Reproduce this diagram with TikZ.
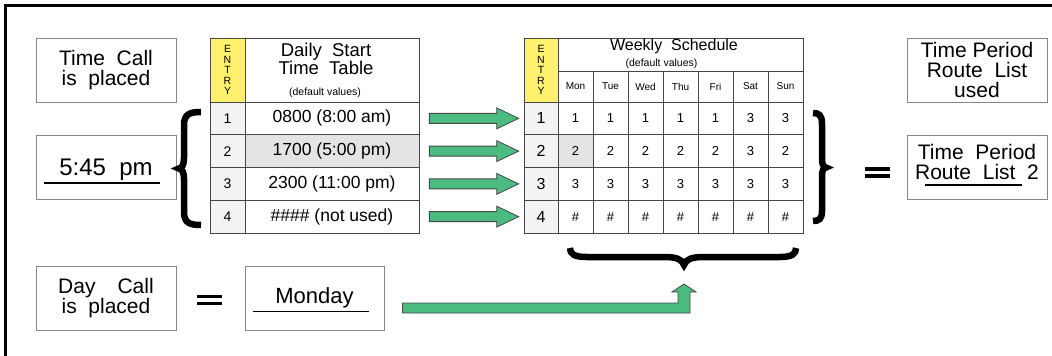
\documentclass[tikz,border=0pt]{standalone}
\usepackage{fontspec}
\setmainfont{Liberation Sans}
\usetikzlibrary{calc}

\definecolor{boxgray}{RGB}{135,135,135}
\definecolor{linegray}{RGB}{70,70,70}
\definecolor{entryyellow}{RGB}{255,240,110}
\definecolor{entrygray}{RGB}{243,243,243}
\definecolor{pickgray}{RGB}{228,228,230}
\definecolor{arrowgreen}{RGB}{76,187,127}

\tikzset{
  box/.style={draw=boxgray, line width=0.9pt, minimum width=140pt, minimum height=64pt,
    inner sep=0pt, align=center, font=\fontsize{21}{20}\selectfont},
  cell/.style={draw=linegray, line width=0.7pt, inner sep=0pt, minimum width=35pt,
    minimum height=32.75pt},
  entry/.style={cell, fill=entrygray},
  entryhead/.style={cell, fill=entryyellow, minimum height=64pt, align=center,
    font=\fontsize{10.5}{10.6}\selectfont},
  fatarrow/.style={draw=linegray, fill=arrowgreen, line width=0.8pt},
  bigbrace/.style={line width=6.5pt},
  eqbar/.style={line width=3.4pt},
  uline/.style={line width=1.2pt},
}

\begin{document}
\begin{tikzpicture}[x=1pt,y=-1pt]
  \useasboundingbox (0,0) rectangle (1052,356);
  \draw[line width=2.6pt] (5.5,356) -- (5.5,5.5) -- (1052,5.5);

  % call side
  \node[box] (tcall) at (106,70) {Time~~Call\\is~~placed};
  \node[box, text depth=0pt, font=\fontsize{24}{24}\selectfont] (tnow) at (106,167.5) {5:45~~pm};
  \draw[uline] (44,183) -- (160,183);
  \node[box] (dcall) at (106,298) {Day\hspace{22pt}Call\\is~~placed};
  \draw[eqbar] (197,296.5) -- (222,296.5) (197,303.5) -- (222,303.5);
  \node[box, minimum width=139pt, font=\fontsize{22}{22}\selectfont] (mon) at (314.5,298) {Monday};
  \draw[uline] (253,311.5) -- (369,311.5);

  % daily start time table
  \fill[pickgray] (245,134.75) rectangle (419,167.5);
  \node[entryhead] (de) at (227.5,70) {E\\N\\T\\R\\Y};
  \node[cell, minimum width=174pt, minimum height=64pt] (dh) at (332,70) {};
  \node[align=center, inner sep=0pt, font=\fontsize{18.5}{17}\selectfont] (dtitle) at (326,58.8) {Daily~~Start\\Time~~Table};
  \node[inner sep=0pt, font=\fontsize{10.5}{10.5}\selectfont] (dnote) at (325,93) {(default values)};
  \foreach \t [count=\i, evaluate=\i as \ry using 85.625+32.75*\i] in
      {0800 (8:00 am), 1700 (5:00 pm), 2300 (11:00 pm), \#\#\#\# (not used)} {
    \node[entry, font=\fontsize{14}{14}\selectfont] (dn\i) at (227.5,\ry) {\i};
    \node[cell, minimum width=174pt, font=\fontsize{17.5}{17.5}\selectfont] (d\i) at (332,\ry) {\t};
  }

  % weekly schedule
  \fill[pickgray] (558,134.75) rectangle (593,167.5);
  \node[entryhead, minimum width=34pt] (we) at (541,70) {E\\N\\T\\R\\Y};
  \node[cell, minimum width=245pt, minimum height=33pt] (wh) at (680.5,54.5) {};
  \node[inner sep=0pt, font=\fontsize{16}{16}\selectfont] (wtitle) at (674,46.8) {Weekly~~Schedule};
  \node[inner sep=0pt, font=\fontsize{10.5}{10.5}\selectfont] (wnote) at (661.5,64) {(default values)};
  \foreach \d [count=\j] in {Mon,Tue,Wed,Thu,Fri,Sat,Sun}
    \node[cell, minimum height=31pt, font=\fontsize{10}{10}\selectfont] (w\d) at (540.5+35*\j,86.5) {\d};
  \foreach \row [count=\i, evaluate=\i as \ry using 85.625+32.75*\i] in
      {{1,1,1,1,1,3,3},{2,2,2,2,2,3,2},{3,3,3,3,3,3,3},{\#,\#,\#,\#,\#,\#,\#}} {
    \node[entry, minimum width=34pt, font=\fontsize{16}{16}\selectfont] (wn\i) at (541,\ry) {\i};
    \foreach \v [count=\j] in \row
      \node[cell, font=\fontsize{13}{13}\selectfont] (w\i-\j) at (540.5+35*\j,\ry) {\v};
  }

  % rows feed the schedule
  \foreach \i in {1,...,4}
    \draw[fatarrow] let \p1=(d\i.east), \p2=(wn\i.west) in
      (\x1+10pt,\y1-5pt) -- (\x2-27pt,\y1-5pt) -- (\x2-27pt,\y1-10.5pt) -- (\x2-5pt,\y1)
      -- (\x2-27pt,\y1+10.5pt) -- (\x2-27pt,\y1+5pt) -- (\x1+10pt,\y1+5pt) -- cycle;

  % braces
  \draw[bigbrace] (201,112) .. controls (190,112) and (184,114) .. (184,125) -- (184,158)
    .. controls (184,165) and (182,168) .. (179,168.5) .. controls (182,169) and (184,172) .. (184,179)
    -- (184,212) .. controls (184,223) and (190,225) .. (201,225);
  \draw[bigbrace] (813,113) .. controls (819,113) and (822,115) .. (822,124) -- (822,158)
    .. controls (822,164) and (823,167) .. (826,167.5) .. controls (823,168) and (822,171) .. (822,177)
    -- (822,211) .. controls (822,219) and (819,221) .. (813,221);
  \draw[bigbrace] (570,248) .. controls (570,254) and (574,257) .. (587,257) -- (664,257)
    .. controls (676,257) and (682,259) .. (684,265) .. controls (686,259) and (692,257) .. (704,257)
    -- (780,257) .. controls (792,257) and (796,254) .. (796,248);
  \coordinate (btip) at (684,268);

  % day picks the column
  \draw[fatarrow] let \p1=(mon.east), \p2=(btip) in
    (\x1+18pt,\y1-5pt) -- (\x2-6pt,\y1-5pt) -- (\x2-6pt,\y2-24pt) -- (\x2-12pt,\y2-24pt)
    -- (\x2,\y2-16pt) -- (\x2+12pt,\y2-24pt) -- (\x2+6pt,\y2-24pt) -- (\x2+6pt,\y1-15pt)
    -- (\x1+18pt,\y1-15pt) -- cycle;

  % result
  \draw[eqbar] (865,169) -- (890,169) (865,176) -- (890,176);
  \node[box] (rlused) at (977,70) {Time~Period\\Route~~List\\used};
  \node[box, text depth=12pt] (rl2) at (977,167.5) {Time~~Period\\Route~~List~~2};
  \draw[uline] (925,185) -- (1022,185);
\end{tikzpicture}
\end{document}
